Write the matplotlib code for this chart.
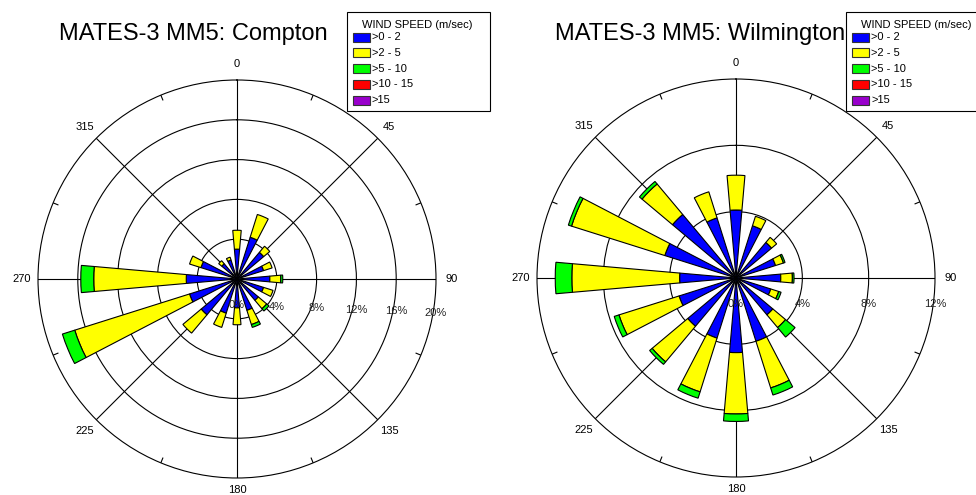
import numpy as np
import matplotlib.pyplot as plt
from matplotlib.patches import Rectangle

plt.rcParams['font.family'] = ['Liberation Sans', 'DejaVu Sans']

W, H = 976, 495

# wind directions (deg, clockwise from north) and speed classes
directions = np.arange(0, 360, 22.5)
speed_classes = [">0 - 2", ">2 - 5", ">5 - 10", ">10 - 15", ">15"]
class_colors = ['#0000ff', '#ffff00', '#00ff00', '#ff0000', '#9900cc']

# frequency (%) per direction, per speed class
compton_0_2 = [3.0, 4.4, 3.5, 2.8, 3.3, 2.8, 2.8, 3.3, 2.9, 3.6, 4.7, 5.0, 5.1, 3.8, 2.0, 2.0]
compton_2_5 = [1.9, 2.4, 0.8, 0.9, 1.1, 1.0, 1.1, 1.5, 1.7, 1.5, 2.4, 12.1, 9.3, 1.2, 0.4, 0.3]
compton_5_10 = [0, 0, 0, 0, 0.2, 0, 0.3, 0.3, 0, 0, 0, 1.3, 1.3, 0, 0, 0]
compton_10_15 = [0] * 16
compton_15 = [0] * 16

wilm_0_2 = [4.1, 3.3, 2.8, 2.5, 2.7, 2.2, 2.9, 4.0, 4.5, 3.8, 3.8, 3.6, 3.4, 4.5, 5.0, 3.8]
wilm_2_5 = [2.1, 0.6, 0.4, 0.5, 0.7, 0.5, 1.0, 2.95, 3.7, 3.4, 2.8, 3.8, 6.5, 5.9, 2.4, 1.65]
wilm_5_10 = [0, 0, 0, 0.1, 0.1, 0.15, 0.75, 0.45, 0.45, 0.4, 0.2, 0.3, 1.0, 0.2, 0.2, 0]
wilm_10_15 = [0] * 16
wilm_15 = [0] * 16

compton_rings = [4, 8, 12, 16, 20]
wilm_rings = [4, 8, 12]
dir_labels = ['0', '45', '90', '135', '180', '225', '270', '315']

fig = plt.figure(figsize=(W / 100, H / 100), dpi=100)


def px_rect(cx, cy, r):
    return [(cx - r) / W, 1 - (cy + r) / H, 2 * r / W, 2 * r / H]


def draw_rose(cx, cy, classes, rings, lab_slope):
    ax = fig.add_axes(px_rect(cx, cy, 199), projection='polar')
    ax.set_theta_zero_location('N')
    ax.set_theta_direction(-1)
    theta = np.deg2rad(directions)
    bottom = np.zeros(len(directions))
    for vals, col in zip(classes, class_colors):
        vals = np.asarray(vals, float)
        m = vals > 0
        if m.any():
            ax.bar(theta[m], vals[m], width=np.deg2rad(10), bottom=bottom[m],
                   color=col, edgecolor='black', linewidth=0.8, zorder=3)
        bottom += vals
    rmax = rings[-1]
    ax.set_ylim(0, rmax)
    ax.set_yticks(rings[:-1])
    ax.set_yticklabels([])
    ax.set_xticks(np.deg2rad(np.arange(0, 360, 45)))
    ax.set_xticklabels([])
    ax.tick_params(axis='x', which='both', length=0)
    ax.grid(True, color='black', linewidth=0.8)
    ax.spines['polar'].set_linewidth(0.8)

    # small inward ticks on the rim between the spokes
    for a in np.deg2rad(np.arange(22.5, 360, 45)):
        ax.plot([a, a], [rmax * 0.974, rmax], color='black', linewidth=0.8,
                zorder=2)

    for ang, lab in zip(np.arange(0, 360, 45), dir_labels):
        f = 1.062 if ang == 180 else 1.08
        ax.text(np.deg2rad(ang), rmax * f, lab, ha='center', va='center',
                fontsize=8, clip_on=False)
    for v in [0] + rings:
        off = 26 + lab_slope * v / rmax * 199
        ax.annotate('{}%'.format(v), xy=(np.pi / 2, v), xytext=(0, -off),
                    textcoords='offset pixels', ha='center', va='center',
                    fontsize=8, color='#222222', zorder=5)
    return ax


def draw_legend(x0):
    fig.add_artist(Rectangle((x0 / W, 1 - 111 / H), 143 / W, 99 / H,
                             transform=fig.transFigure, facecolor='white',
                             edgecolor='black', linewidth=0.8, zorder=10))
    fig.text((x0 + 70) / W, 1 - 25 / H, 'WIND SPEED (m/sec)', ha='center',
             va='center', fontsize=8, zorder=11)
    for i, (lab, col) in enumerate(zip(speed_classes, class_colors)):
        yc = 37 + i * 15.75
        fig.add_artist(Rectangle(((x0 + 6) / W, 1 - (yc + 4.5) / H), 17 / W, 9 / H,
                                 transform=fig.transFigure, facecolor=col,
                                 edgecolor='#333333', linewidth=0.8, zorder=11))
        fig.text((x0 + 25) / W, 1 - yc / H, lab, ha='left', va='center',
                 fontsize=8, zorder=11)


draw_rose(237, 279, [compton_0_2, compton_2_5, compton_5_10, compton_10_15, compton_15],
          compton_rings, 0.04)
draw_rose(736, 278, [wilm_0_2, wilm_2_5, wilm_5_10, wilm_10_15, wilm_15],
          wilm_rings, 0.0)

fig.text(193 / W, 1 - 34 / H, 'MATES-3 MM5: Compton', ha='center', va='center', fontsize=17)
fig.text(700 / W, 1 - 34 / H, 'MATES-3 MM5: Wilmington', ha='center', va='center', fontsize=17)

draw_legend(347)
draw_legend(846)

fig.savefig('out.png', dpi=100)
